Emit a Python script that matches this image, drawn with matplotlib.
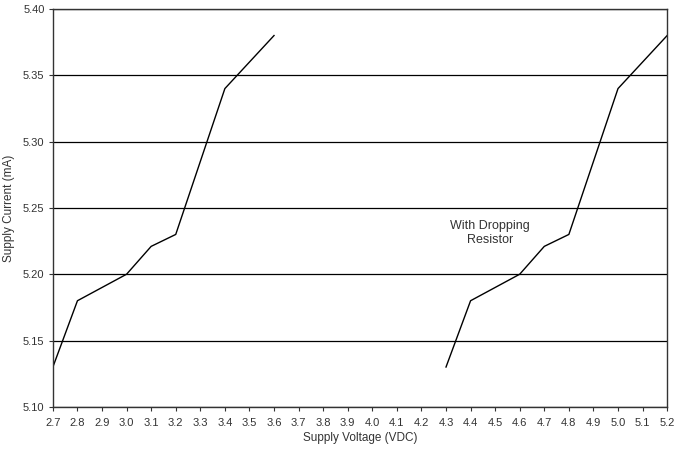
import numpy as np
import matplotlib.pyplot as plt

plt.rcParams['font.family'] = ['Liberation Sans', 'DejaVu Sans']

# supply voltage (VDC) and current (mA)
volts_a = [2.7, 2.8, 3.0, 3.1, 3.2, 3.3, 3.4, 3.6]
current_a = [5.13, 5.18, 5.20, 5.221, 5.23, 5.285, 5.34, 5.38]

# with dropping resistor
volts_b = [4.3, 4.4, 4.6, 4.7, 4.8, 4.9, 5.0, 5.2]
current_b = [5.13, 5.18, 5.20, 5.221, 5.23, 5.285, 5.34, 5.38]

x_ticks = np.round(np.arange(2.7, 5.21, 0.1), 1)
y_ticks = [5.10, 5.15, 5.20, 5.25, 5.30, 5.35, 5.40]

fig = plt.figure(figsize=(6.78, 4.51), dpi=100)
ax = fig.add_axes([0.078, 0.098, 0.906, 0.882])

ax.plot(volts_a, current_a, color='black', lw=1)
ax.plot(volts_b, current_b, color='black', lw=1)

ax.set_xlim(2.7, 5.2)
ax.set_ylim(5.10, 5.40)
ax.set_xticks(x_ticks)
ax.set_xticklabels(['%.1f' % v for v in x_ticks])
ax.set_yticks(y_ticks)
ax.set_yticklabels(['%.2f' % v for v in y_ticks])
ax.yaxis.grid(True, color='black', lw=0.9)
ax.set_axisbelow(True)

for s in ax.spines.values():
    s.set_color('#333333')
    s.set_linewidth(1.0)

ax.tick_params(axis='both', labelsize=8, colors='#333333', length=3, width=0.8)
ax.tick_params(axis='x', pad=5)
ax.tick_params(axis='y', pad=3)
ax.set_xlabel('Supply Voltage (VDC)', fontsize=8.5, color='#333333', labelpad=3)
ax.set_ylabel('Supply Current (mA)', fontsize=8.5, color='#333333', labelpad=6)

ax.text(4.48, 5.231, 'With Dropping\nResistor', ha='center', va='center',
        fontsize=9, color='#333333')

fig.savefig('out.png', dpi=100)
